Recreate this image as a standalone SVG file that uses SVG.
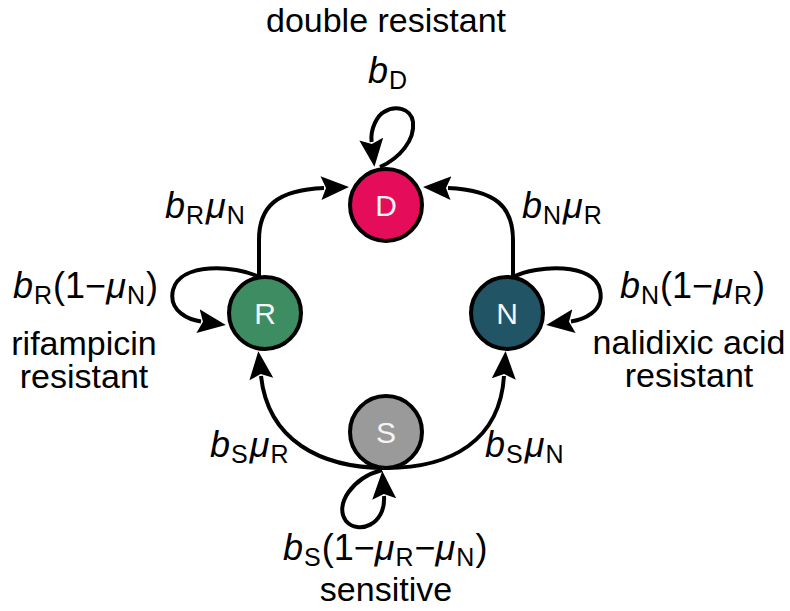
<svg xmlns="http://www.w3.org/2000/svg" width="790" height="611" viewBox="0 0 790 611">
<style>
.node circle{stroke:#000;stroke-width:4}
.node text{font-family:"Liberation Sans",Arial,sans-serif;font-size:30px;fill:#f4f4f4;text-anchor:middle}
.edge{fill:none;stroke:#000;stroke-width:4}
.lbl{font-family:"Liberation Sans",Arial,sans-serif;font-size:36px;fill:#000}
.it{font-style:italic}
.sub{font-size:25px}
.cap{font-family:"Liberation Sans",Arial,sans-serif;font-size:34px;fill:#000;text-anchor:middle}
</style>
<defs>
<marker id="arr" markerUnits="userSpaceOnUse" viewBox="0 -13 30 26" markerWidth="30" markerHeight="26" refX="3" refY="0" orient="auto">
<path d="M0,-12 L28,0 L0,12 L5,0 z" fill="#000"/>
</marker>
</defs>
<g id="edges">
<path class="edge" d="M259,277 L259,240 C259,207 276,190 324,188" marker-end="url(#arr)"/>
<path class="edge" d="M513,277 L513,240 C513,207 496,190 448,188" marker-end="url(#arr)"/>
<path class="edge" d="M380,167 C400,158 415,140 413,122 C411,108 395,105 384,112 C378,115 370,128 371.6,142" marker-end="url(#arr)"/>
<path class="edge" d="M259,277 C235,265 180,262 173,290 C168,312 190,320 201,321.5" marker-end="url(#arr)"/>
<path class="edge" d="M513,277 C537,265 594,262 600,290 C605,312 582,320 571,321.5" marker-end="url(#arr)"/>
<path class="edge" d="M386,468 C320,468 268,440 261,376" marker-end="url(#arr)"/>
<path class="edge" d="M386,468 C452,468 500,440 504,376" marker-end="url(#arr)"/>
<path class="edge" d="M382,470 C352,478 334,505 346,521 C358,535 386,525 384,496" marker-end="url(#arr)"/>
</g>
<g id="node-D" class="node"><circle cx="386" cy="205" r="36" fill="#e50c5a"/><text x="386" y="216">D</text></g>
<g id="node-R" class="node"><circle cx="265" cy="313" r="36" fill="#3e8c62"/><text x="265" y="324">R</text></g>
<g id="node-N" class="node"><circle cx="507" cy="313" r="36" fill="#215566"/><text x="507" y="324">N</text></g>
<g id="node-S" class="node"><circle cx="386" cy="432" r="36" fill="#9a9a9a"/><text x="386" y="443">S</text></g>
<g id="labels">
<text class="cap" x="386" y="32">double resistant</text>
<text class="cap" x="84" y="355">rifampicin</text>
<text class="cap" x="84" y="388">resistant</text>
<text class="cap" x="689" y="354">nalidixic acid</text>
<text class="cap" x="689" y="387">resistant</text>
<text class="cap" x="386" y="601">sensitive</text>
<text class="lbl" x="368" y="83"><tspan class="it">b</tspan><tspan class="sub" dx="1" dy="6">D</tspan></text>
<text class="lbl" x="165" y="218"><tspan class="it">b</tspan><tspan class="sub" dx="1" dy="6">R</tspan><tspan class="it" dx="2" dy="-6">μ</tspan><tspan class="sub" dx="1" dy="6">N</tspan></text>
<text class="lbl" x="522" y="218"><tspan class="it">b</tspan><tspan class="sub" dx="1" dy="6">N</tspan><tspan class="it" dx="2" dy="-6">μ</tspan><tspan class="sub" dx="1" dy="6">R</tspan></text>
<text class="lbl" x="13" y="298"><tspan class="it">b</tspan><tspan class="sub" dx="1" dy="6">R</tspan><tspan dx="1" dy="-6">(1−</tspan><tspan class="it">μ</tspan><tspan class="sub" dx="1" dy="6">N</tspan><tspan dx="1" dy="-6">)</tspan></text>
<text class="lbl" x="620" y="298"><tspan class="it">b</tspan><tspan class="sub" dx="1" dy="6">N</tspan><tspan dx="1" dy="-6">(1−</tspan><tspan class="it">μ</tspan><tspan class="sub" dx="1" dy="6">R</tspan><tspan dx="1" dy="-6">)</tspan></text>
<text class="lbl" x="210" y="457"><tspan class="it">b</tspan><tspan class="sub" dx="1" dy="6">S</tspan><tspan class="it" dx="2" dy="-6">μ</tspan><tspan class="sub" dx="1" dy="6">R</tspan></text>
<text class="lbl" x="485" y="457"><tspan class="it">b</tspan><tspan class="sub" dx="1" dy="6">S</tspan><tspan class="it" dx="2" dy="-6">μ</tspan><tspan class="sub" dx="1" dy="6">N</tspan></text>
<text class="lbl" x="283" y="560"><tspan class="it">b</tspan><tspan class="sub" dx="1" dy="6">S</tspan><tspan dx="1" dy="-6">(1−</tspan><tspan class="it">μ</tspan><tspan class="sub" dx="1" dy="6">R</tspan><tspan dx="1" dy="-6">−</tspan><tspan class="it">μ</tspan><tspan class="sub" dx="1" dy="6">N</tspan><tspan dx="1" dy="-6">)</tspan></text>
</g>
</svg>
